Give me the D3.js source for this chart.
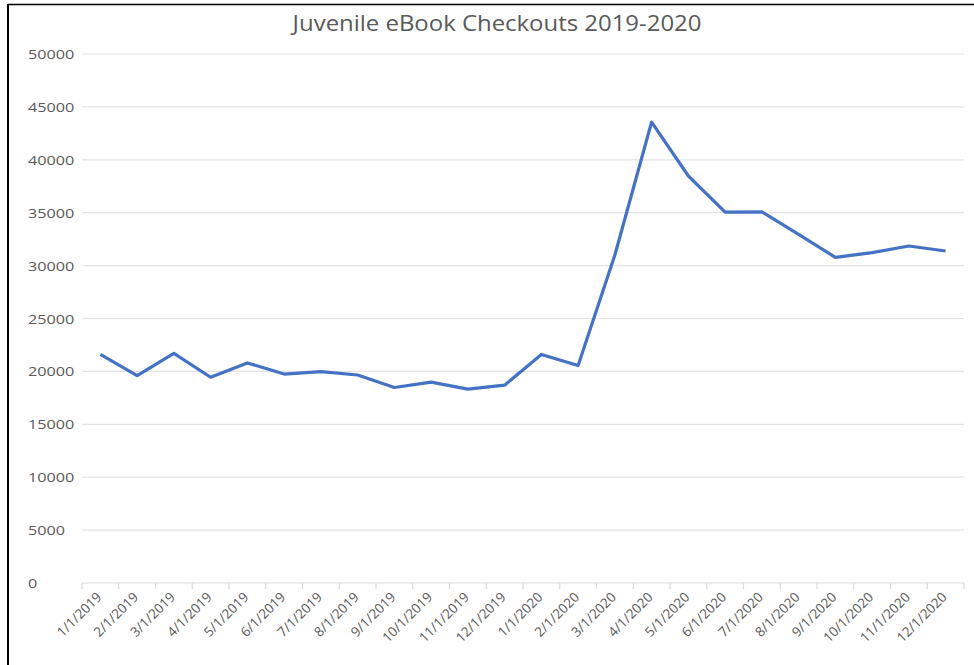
<!DOCTYPE html>
<html>
<head>
<meta charset="utf-8">
<script src="https://cdn.jsdelivr.net/npm/d3@7"></script>
<style>
	body { margin: 0; background: #fff; }
	text { font-family: "Open Sans", "Liberation Sans", sans-serif; fill: #595959; }
</style>
</head>
<body>
<div id="chart"></div>
<script>
var months = ["1/1/2019", "2/1/2019", "3/1/2019", "4/1/2019", "5/1/2019", "6/1/2019",
	"7/1/2019", "8/1/2019", "9/1/2019", "10/1/2019", "11/1/2019", "12/1/2019",
	"1/1/2020", "2/1/2020", "3/1/2020", "4/1/2020", "5/1/2020", "6/1/2020",
	"7/1/2020", "8/1/2020", "9/1/2020", "10/1/2020", "11/1/2020", "12/1/2020"];
var checkouts = [21600, 19600, 21700, 19450, 20800, 19750,
	19980, 19660, 18480, 18980, 18320, 18700,
	21600, 20550, 31000, 43570, 38470, 35050,
	35080, 32950, 30780, 31220, 31850, 31380];
var yTicks = [0, 5000, 10000, 15000, 20000, 25000, 30000, 35000, 40000, 45000, 50000];
var title = "Juvenile eBook Checkouts 2019-2020";

var width = 974, height = 665;
var margin = { top: 54, right: 10, bottom: 82, left: 82 };
var w = width - margin.left - margin.right;
var h = height - margin.top - margin.bottom;

var svg = d3.select("#chart")
	.append("svg")
		.attr("width", width)
		.attr("height", height);

// frame lines (left and top) as in the screenshot
svg.append("line").attr("x1", 8).attr("x2", 8).attr("y1", 4).attr("y2", height)
	.attr("stroke", "#000").attr("stroke-width", 2);
svg.append("line").attr("x1", 8).attr("x2", width).attr("y1", 4.5).attr("y2", 4.5)
	.attr("stroke", "#000").attr("stroke-width", 1.5);

// the screenshot is a bit stretched sideways, so text gets a horizontal scale
svg.append("text")
	.attr("transform", "translate(497,31) scale(1.14,1)")
	.attr("text-anchor", "middle")
	.style("font-size", "21px")
	.text(title);

var g = svg.append("g")
	.attr("transform", "translate(" + margin.left + "," + margin.top + ")");

var x = d3.scaleBand().domain(months).range([0, w]);
var y = d3.scaleLinear().domain([0, 50000]).range([h, 0]);

// gridlines
g.selectAll(".grid").data(yTicks.slice(1)).enter()
	.append("line")
	.attr("x1", 0).attr("x2", w)
	.attr("y1", function(d) { return y(d); })
	.attr("y2", function(d) { return y(d); })
	.attr("stroke", "#e3e3e3").attr("stroke-width", 1.2);

// y labels, left aligned like Excel
g.selectAll(".ylab").data(yTicks).enter()
	.append("text")
	.attr("transform", function(d) {
		return "translate(" + (28 - margin.left) + "," + (y(d) + 5) + ") scale(1.2,1)";
	})
	.style("font-size", "13.5px")
	.text(function(d) { return d; });

// x axis
var xAxis = g.append("g")
	.attr("transform", "translate(0," + h + ")");
xAxis.append("line").attr("x1", 0).attr("x2", w)
	.attr("stroke", "#d9d9d9").attr("stroke-width", 1.2);
var bounds = months.map(function(m) { return x(m); }).concat([w]);
xAxis.selectAll(".tick").data(bounds).enter()
	.append("line")
	.attr("x1", function(d) { return d; }).attr("x2", function(d) { return d; })
	.attr("y1", 0).attr("y2", 6)
	.attr("stroke", "#d9d9d9").attr("stroke-width", 1.2);
xAxis.selectAll(".xlab").data(months).enter()
	.append("text")
	.attr("text-anchor", "end")
	.attr("transform", function(d) {
		return "translate(" + (x(d) + x.bandwidth() / 2 + 2) + ",15) rotate(-45)";
	})
	.style("font-size", "13.5px")
	.text(function(d) { return d; });

var line = d3.line()
	.x(function(d, i) { return x(months[i]) + x.bandwidth() / 2; })
	.y(function(d) { return y(d); });

g.append("path")
	.datum(checkouts)
	.attr("d", line)
	.attr("fill", "none")
	.attr("stroke", "#4472C4")
	.attr("stroke-width", 3.2)
	.attr("stroke-linejoin", "round");
</script>
</body>
</html>
